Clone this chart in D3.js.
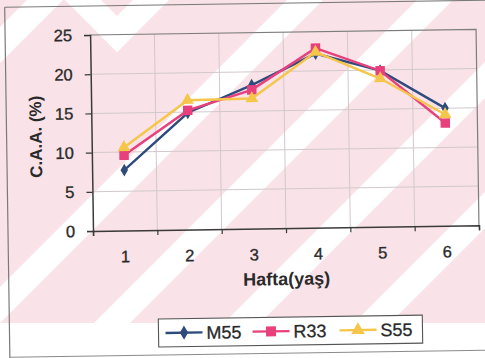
<!DOCTYPE html>
<html>
<head>
<meta charset="utf-8">
<script src="https://cdn.jsdelivr.net/npm/d3@7"></script>
<style>
  html, body { margin: 0; padding: 0; background: #ffffff; }
  svg { display: block; }
  text { font-family: "Liberation Sans", Arial, sans-serif; fill: #2a2a2a; }
</style>
</head>
<body>
<svg id="chart" width="485" height="358"></svg>
<script>
// Weekly C.A.A. (%) values for three lines
const categories = ["1", "2", "3", "4", "5", "6"];
const seriesNames = ["M55", "R33", "S55"];
const m55Values = [7.7, 14.9, 18.3, 22.2, 19.9, 15.0];
const r33Values = [9.6, 15.2, 17.7, 22.9, 19.9, 13.1];
const s55Values = [10.6, 16.5, 16.6, 22.4, 18.9, 14.2];
const yTickValues = [0, 5, 10, 15, 20, 25];
const xTitle = "Hafta(yaş)";
const yTitle = "C.A.A. (%)";

const W = 485, H = 358;
const svg = d3.select("#chart");
const defs = svg.append("defs");

// Page background: pink band with diagonal white stripes
const bgHeight = 323;
const half = 18;
defs.append("clipPath").attr("id", "bgclip")
  .append("rect").attr("x", 0).attr("y", 0).attr("width", W).attr("height", bgHeight);

// chevron arms near the top-left corner (centre lines x+y = 151 and x-y = 83)
const chevSum = 151, chevDiff = 83;
defs.append("clipPath").attr("id", "slashArmClip")
  .append("polygon").attr("points", [
    [chevDiff - half - 100, -100], [700, -100], [700, 700 - (chevDiff - half)]
  ].map(p => p.join(",")).join(" "));
defs.append("clipPath").attr("id", "backArmClip")
  .append("polygon").attr("points", [
    [-100, -100], [chevSum + half + 100, -100], [-100, chevSum + half + 100]
  ].map(p => p.join(",")).join(" "));

const bg = svg.append("g").attr("clip-path", "url(#bgclip)");
bg.append("rect").attr("width", W).attr("height", bgHeight).attr("fill", "#f9e3e8");

const slashBand = c => [
  [c - half + 100, -100], [c + half + 100, -100],
  [c + half - 500, 500], [c - half - 500, 500]
].map(p => p.join(",")).join(" ");
const backslashBand = d => [
  [d - half - 100, -100], [d + half - 100, -100],
  [d + half + 500, 500], [d - half + 500, 500]
].map(p => p.join(",")).join(" ");

const fullStripes = [45, 305, 435, 565, 695];
bg.selectAll("polygon.stripe").data(fullStripes).join("polygon")
  .attr("class", "stripe").attr("fill", "#ffffff")
  .attr("points", slashBand);

bg.append("polygon").attr("fill", "#ffffff").attr("points", slashBand(chevSum))
  .attr("clip-path", "url(#slashArmClip)");
bg.append("polygon").attr("fill", "#ffffff").attr("points", backslashBand(chevDiff))
  .attr("clip-path", "url(#backArmClip)");

// Chart group, slightly tilted like the printed page
const plot = { left: 93, right: 479, top: 35, bottom: 231 };
const g = svg.append("g").attr("transform", `rotate(-0.85, ${plot.left}, ${plot.bottom})`);

// Outer frame
g.append("line").attr("x1", 8).attr("x2", 500).attr("y1", 6).attr("y2", 6)
  .attr("stroke", "#7a7a7a").attr("stroke-width", 1);
g.append("line").attr("x1", 8).attr("x2", 8).attr("y1", 6).attr("y2", 360)
  .attr("stroke", "#7a7a7a").attr("stroke-width", 1.2);
g.append("line").attr("x1", 8).attr("x2", 500).attr("y1", 356).attr("y2", 356)
  .attr("stroke", "#8a8a8a").attr("stroke-width", 1);

const x = d3.scaleBand().domain(categories).range([plot.left, plot.right]);
const xEdge = d3.scaleLinear().domain([0, categories.length]).range([plot.left, plot.right]);
const y = d3.scaleLinear().domain([0, 25]).range([plot.bottom, plot.top]);

// Gridlines
g.append("g").selectAll("line").data(yTickValues.slice(1, -1)).join("line")
  .attr("x1", plot.left).attr("x2", plot.right)
  .attr("y1", d => y(d)).attr("y2", d => y(d))
  .attr("stroke", "#d2c8cb").attr("stroke-width", 1);
g.append("g").selectAll("line").data(d3.range(1, categories.length)).join("line")
  .attr("x1", d => xEdge(d)).attr("x2", d => xEdge(d))
  .attr("y1", plot.top).attr("y2", plot.bottom)
  .attr("stroke", "#d2c8cb").attr("stroke-width", 1);

// Plot frame (top / right)
g.append("path")
  .attr("d", `M${plot.left},${plot.top}H${plot.right}V${plot.bottom}`)
  .attr("fill", "none").attr("stroke", "#7d7d7d").attr("stroke-width", 1.2);

// Y axis
const yAxis = g.append("g").attr("transform", `translate(${plot.left},0)`)
  .call(d3.axisLeft(y).tickValues(yTickValues).tickSize(6).tickPadding(12));
yAxis.select(".domain").attr("stroke", "#3a3a3a").attr("stroke-width", 1.5);
yAxis.selectAll(".tick line").attr("stroke", "#3a3a3a").attr("stroke-width", 1.2);
yAxis.selectAll(".tick text").attr("font-size", 16.5).attr("fill", "#2a2a2a")
  .attr("stroke", "#2a2a2a").attr("stroke-width", 0.35);

// X axis: tick marks on category edges, labels centred
const xTicks = g.append("g").attr("transform", `translate(0,${plot.bottom})`)
  .call(d3.axisBottom(xEdge).tickValues(d3.range(0, categories.length + 1)).tickSize(5).tickFormat(""));
xTicks.select(".domain").attr("stroke", "#3a3a3a").attr("stroke-width", 1.5);
xTicks.selectAll(".tick line").attr("stroke", "#3a3a3a").attr("stroke-width", 1.2);
const xLabels = g.append("g").attr("transform", `translate(0,${plot.bottom})`)
  .call(d3.axisBottom(x).tickSize(0).tickPadding(20));
xLabels.select(".domain").remove();
xLabels.selectAll(".tick text").attr("font-size", 16.5).attr("fill", "#2a2a2a")
  .attr("stroke", "#2a2a2a").attr("stroke-width", 0.35);

// Axis titles
g.append("text").attr("x", (plot.left + plot.right) / 2).attr("y", 288)
  .attr("text-anchor", "middle").attr("font-size", 18).attr("font-weight", "bold")
  .text(xTitle);
g.append("text").attr("transform", "translate(43,136) rotate(-90)")
  .attr("text-anchor", "middle").attr("font-size", 17).attr("font-weight", "bold")
  .text(yTitle);

// Series
const series = [
  { name: seriesNames[0], values: m55Values, color: "#2f4b7c", shape: d3.symbolDiamond, size: 48 },
  { name: seriesNames[1], values: r33Values, color: "#e8407c", shape: d3.symbolSquare, size: 90 },
  { name: seriesNames[2], values: s55Values, color: "#f5c64a", shape: d3.symbolTriangle, size: 70 }
];
const line = d3.line()
  .x((d, i) => x(categories[i]) + x.bandwidth() / 2)
  .y(d => y(d));

series.forEach(s => {
  g.append("path").datum(s.values)
    .attr("d", line).attr("fill", "none")
    .attr("stroke", s.color).attr("stroke-width", 2.4);
  g.append("g").selectAll("path").data(s.values).join("path")
    .attr("d", d3.symbol().type(s.shape).size(s.size))
    .attr("transform", (d, i) => `translate(${x(categories[i]) + x.bandwidth() / 2},${y(d)})`)
    .attr("fill", s.color);
});

// Legend
const legend = g.append("g");
legend.append("rect").attr("x", 157).attr("y", 320).attr("width", 264).attr("height", 28)
  .attr("fill", "#ffffff").attr("stroke", "#555").attr("stroke-width", 1.1);
const legendX = [164, 251, 338];
series.forEach((s, i) => {
  const lx = legendX[i], ly = 334;
  legend.append("line").attr("x1", lx).attr("x2", lx + 37).attr("y1", ly).attr("y2", ly)
    .attr("stroke", s.color).attr("stroke-width", 2.4);
  legend.append("path").attr("d", d3.symbol().type(s.shape).size(s.size + 10))
    .attr("transform", `translate(${lx + 18.5},${ly})`).attr("fill", s.color);
  legend.append("text").attr("x", lx + 41).attr("y", ly + 6.5)
    .attr("font-size", 18).attr("stroke", "#2a2a2a").attr("stroke-width", 0.3)
    .text(s.name);
});
</script>
</body>
</html>
